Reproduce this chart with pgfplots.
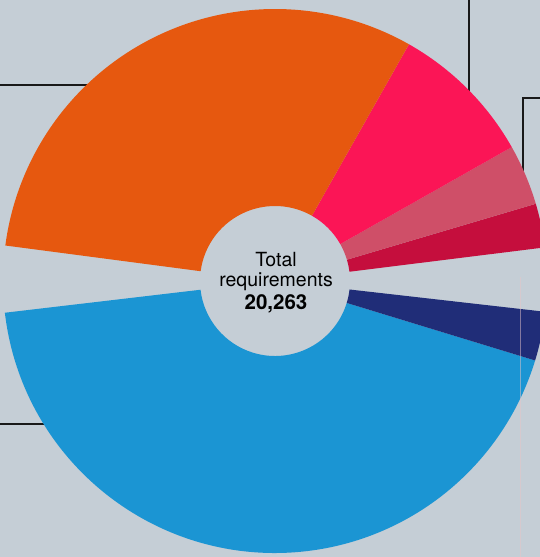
\documentclass[border=0pt]{standalone}
\usepackage{pgfplots}
\pgfplotsset{compat=1.18}
\usepackage{pgfplotstable}
\usepackage{fontspec}
\setmainfont{TeX Gyre Heros}
\usetikzlibrary{calc}

\definecolor{bg}{HTML}{C5CED6}
\definecolor{cOrange}{HTML}{E6580F}
\definecolor{cPink}{HTML}{FB1556}
\definecolor{cMauve}{HTML}{CF4F68}
\definecolor{cDarkRed}{HTML}{C50E3D}
\definecolor{cBlue}{HTML}{1B95D3}
\definecolor{cNavy}{HTML}{202D78}

% value = share of the 20,263 total; gap = empty angle (deg) after the slice
\pgfplotstableread{
name value gap color
darkred 573 0 cDarkRed
mauve 793 0 cMauve
pink 1891 0 cPink
orange 6832 14.2 cOrange
blue 9534 0 cBlue
navy 640 13.6 cNavy
}\slices

\begin{document}
\begin{tikzpicture}
\begin{axis}[scale only axis, width=540pt, height=557pt,
  xmin=0, xmax=540, ymin=0, ymax=557, hide axis, clip=true]
\pgfplotsextra{
  \fill[bg] (axis cs:0,0) rectangle (axis cs:540,557);
  % leader lines (behind the donut)
  \draw[black!90, line width=1.6pt] (axis cs:0,472) -- (axis cs:100,472);
  \draw[black!90, line width=1.6pt] (axis cs:469,560) -- (axis cs:469,450);
  \draw[black!90, line width=1.6pt] (axis cs:545,459) -- (axis cs:523,459) -- (axis cs:523,370);
  \draw[black!90, line width=1.6pt] (axis cs:0,133) -- (axis cs:60,133);
  % donut
  \xdef\cur{7.1}
  \foreach \i in {0,...,5}{
    \pgfplotstablegetelem{\i}{value}\of\slices \let\v\pgfplotsretval
    \pgfplotstablegetelem{\i}{gap}\of\slices \let\g\pgfplotsretval
    \pgfplotstablegetelem{\i}{color}\of\slices \let\c\pgfplotsretval
    \pgfmathsetmacro\a{\cur}
    \pgfmathsetmacro\b{\cur+\v/2026.3*33.22}
    \fill[fill=\c] (axis cs:275,276) ++(\a:272pt) arc[start angle=\a, end angle=\b, radius=272pt]
      -- ($(axis cs:275,276)+(\b:75pt)$) arc[start angle=\b, end angle=\a, radius=75pt] -- cycle;
    \pgfmathsetmacro\n{\b+\g}
    \xdef\cur{\n}
  }
  \draw[draw=pink!60!bg, line width=0.5pt, opacity=0.5] (axis cs:520,0) -- (axis cs:520,280);
  % centre text
  \node[anchor=base, inner sep=0pt, font=\fontsize{19.5}{21}\selectfont] at (axis cs:276,290) {Total};
  \node[anchor=base, inner sep=0pt, font=\fontsize{19.5}{21}\selectfont] at (axis cs:276,270) {requirements};
  \node[anchor=base, inner sep=0pt, font=\fontsize{20.5}{21}\selectfont\bfseries] at (axis cs:276,247) {20,263};
}
\end{axis}
\pgfresetboundingbox
\path[use as bounding box] (current axis.south west) rectangle (current axis.north east);
\end{tikzpicture}
\end{document}
